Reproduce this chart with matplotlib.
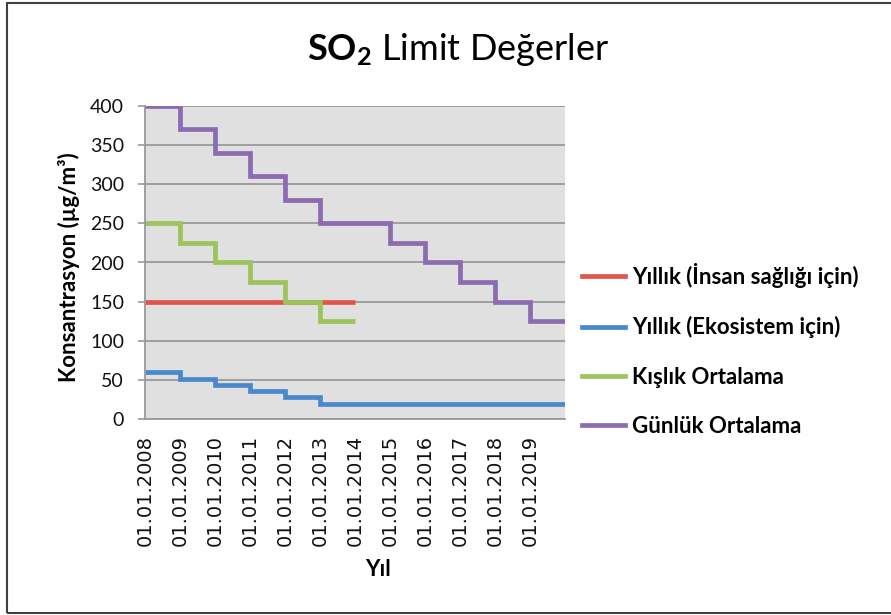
import matplotlib
matplotlib.use("Agg")
import matplotlib.pyplot as plt
import numpy as np
from matplotlib.patches import Rectangle

categories = ['01.01.2008', '01.01.2009', '01.01.2010', '01.01.2011', '01.01.2012', '01.01.2013',
              '01.01.2014', '01.01.2015', '01.01.2016', '01.01.2017', '01.01.2018', '01.01.2019']
insan_sagligi = [150, 150, 150, 150, 150, 150]
ekosistem = [60, 52, 44, 36, 28, 20, 20, 20, 20, 20, 20, 20]
kislik = [250, 225, 200, 175, 150, 125]
gunluk = [400, 370, 340, 310, 280, 250, 250, 225, 200, 175, 150, 125]

series_labels = ['Yıllık (İnsan sağlığı için)', 'Yıllık (Ekosistem için)',
                 'Kışlık Ortalama', 'Günlük Ortalama']
colors = ['#e0554c', '#4a88cc', '#9cc45a', '#8c6bb0']
yticks = [0, 50, 100, 150, 200, 250, 300, 350, 400]

plt.rcParams['font.family'] = ['Lato', 'DejaVu Sans']

W, H = 891, 615
fig = plt.figure(figsize=(W / 100, H / 100), dpi=100)
ax = fig.add_axes([145 / W, 1 - 419.3 / H, 420 / W, 313.6 / H])
ax.set_facecolor('#e0e0e0')

for vals, lab, c in zip([insan_sagligi, ekosistem, kislik, gunluk], series_labels, colors):
    edges = np.arange(len(vals) + 1)
    ax.stairs(vals, edges, baseline=None, color=c, linewidth=3.4, label=lab)

ax.set_xlim(0, len(categories))
ax.set_ylim(0, 400)
ax.set_yticks(yticks)
ax.set_xticks(np.arange(len(categories)))
ax.set_xticklabels(categories, rotation=90, fontfamily='DejaVu Sans', fontsize=14, color='#111111')
ax.tick_params(axis='x', length=0, pad=11)
ax.tick_params(axis='y', length=5, width=1.2, color='#9a9a9a', pad=10, labelsize=14, labelcolor='#111111')
ax.yaxis.grid(True, color='#9a9a9a', linewidth=1.3)
ax.set_axisbelow(True)
for s in ['top', 'right']:
    ax.spines[s].set_visible(False)
for s in ['left', 'bottom']:
    ax.spines[s].set_color('#9a9a9a')
    ax.spines[s].set_linewidth(1.3)

ax.set_ylabel('Konsantrasyon (µg/m³)', fontsize=16, fontweight='bold')
ax.yaxis.label.set(rotation_mode='default', ha='right', va='center')
ax.yaxis.set_label_coords((80 - 145) / 420, (419.3 - 267) / 313.6)
ax.set_xlabel('Yıl', fontsize=16, fontweight='bold')
ax.xaxis.set_label_coords((378 - 145) / 420, (419.3 - 559) / 313.6)

leg = fig.legend(loc='center left', bbox_to_anchor=(582 / W, 1 - 350 / H), frameon=False,
                 prop={'weight': 'bold', 'size': 16}, handlelength=1.95,
                 handletextpad=0.3, labelspacing=1.28, borderpad=0, borderaxespad=0)

plt.rcParams['mathtext.fontset'] = 'custom'
plt.rcParams['mathtext.bf'] = 'Lato:bold'
plt.rcParams['mathtext.rm'] = 'Lato'
fig.text(458 / W, 1 - 50 / H, r'$\mathbf{SO_2}$ Limit Değerler', fontsize=26,
         ha='center', va='center')

fig.patches.append(Rectangle((7 / W, 2 / H), 1.2, (612 - 2) / H, transform=fig.transFigure,
                             fill=False, edgecolor='#404040', linewidth=1.5, clip_on=False))

fig.savefig('out.png', dpi=100)
